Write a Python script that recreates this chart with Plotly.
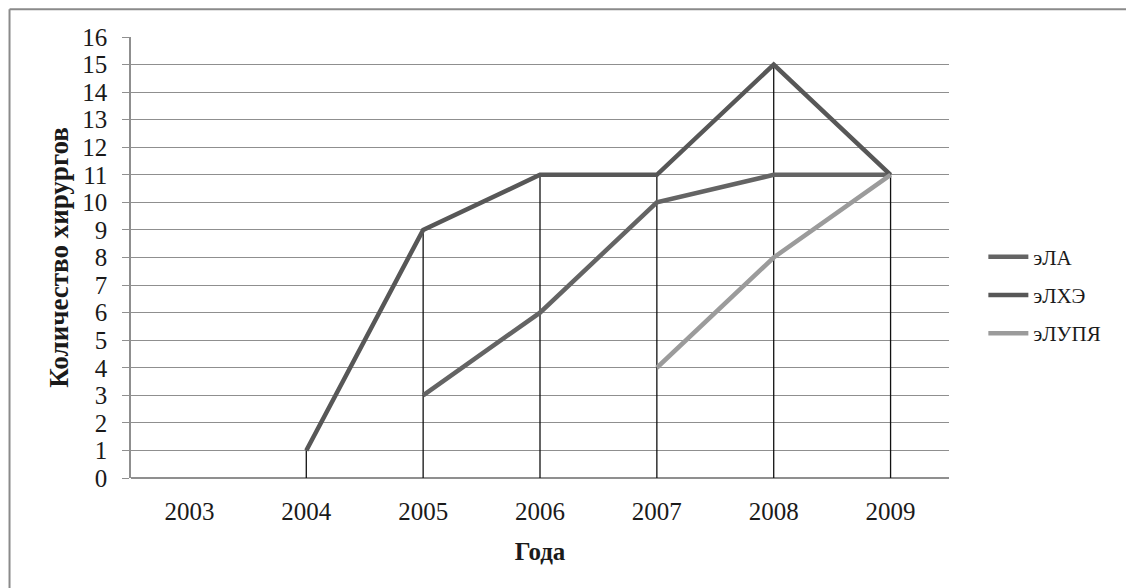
import plotly.graph_objects as go

years = ["2003", "2004", "2005", "2006", "2007", "2008", "2009"]
s_ela = [None, None, 3, 6, 10, 11, 11]
s_elhe = [None, 1, 9, 11, 11, 15, 11]
s_elupya = [None, None, None, None, 4, 8, 11]
y_ticks = list(range(0, 17))

names = ["эЛА", "эЛХЭ", "эЛУПЯ"]
colors = ["#646464", "#575757", "#9b9b9b"]
series = [s_ela, s_elhe, s_elupya]

# drop lines: from highest point in each category to the axis
dx, dy = [], []
for i, yr in enumerate(years):
    vals = [s[i] for s in series if s[i] is not None]
    if vals:
        dx += [yr, yr, None]
        dy += [0, max(vals), None]

fig = go.Figure()
fig.add_trace(go.Scatter(x=dx, y=dy, mode="lines", line=dict(color="#111111", width=1.3),
                         showlegend=False, hoverinfo="skip"))
for n, c, s in zip(names, colors, series):
    fig.add_trace(go.Scatter(x=years, y=s, name=n, mode="lines",
                             line=dict(color=c, width=4.5), legendgroup=n))

fig.update_layout(
    width=1126, height=588,
    paper_bgcolor="white", plot_bgcolor="white",
    margin=dict(l=131, r=177, t=37, b=110),
    font=dict(family="Liberation Serif", color="#1a1a1a"),
    showlegend=True,
    legend=dict(x=1.042, y=0.415, xanchor="left", yanchor="middle",
                font=dict(size=21, family="Liberation Serif", color="#1a1a1a"),
                traceorder="grouped", tracegroupgap=8, itemwidth=40,
                bgcolor="rgba(0,0,0,0)"),
    xaxis=dict(type="category", categoryorder="array", categoryarray=years,
               range=[-0.5, 6.5], showgrid=False, zeroline=False,
               showline=False, ticks="", tickfont=dict(size=25), ticklabelstandoff=16,
               title=dict(text="<b>Года</b>", font=dict(size=25), standoff=18)),
    yaxis=dict(range=[0, 16], tickvals=y_ticks, showgrid=True, gridcolor="#8f8f8f",
               gridwidth=1.2, zeroline=True, zerolinecolor="#8f8f8f", zerolinewidth=1.5,
               showline=True, linecolor="#8f8f8f", linewidth=1.5,
               ticks="outside", ticklen=7, tickcolor="#8f8f8f", tickfont=dict(size=25),
               ticklabelstandoff=10,
               title=dict(text="<b>Количество хирургов</b>", font=dict(size=27), standoff=6)),
)

fig.add_shape(type="line", xref="paper", yref="paper", x0=-0.1485, x1=1.5, y0=1.063, y1=1.063,
              line=dict(color="#8a8a8a", width=2))
fig.add_shape(type="line", xref="paper", yref="paper", x0=-0.1485, x1=-0.1485, y0=1.063, y1=-0.4,
              line=dict(color="#8a8a8a", width=2))

fig.write_html("out.html", config={"displayModeBar": False},
               post_script="document.body.style.margin='0';document.body.style.overflow='hidden';"
                           "document.documentElement.style.overflow='hidden';")
